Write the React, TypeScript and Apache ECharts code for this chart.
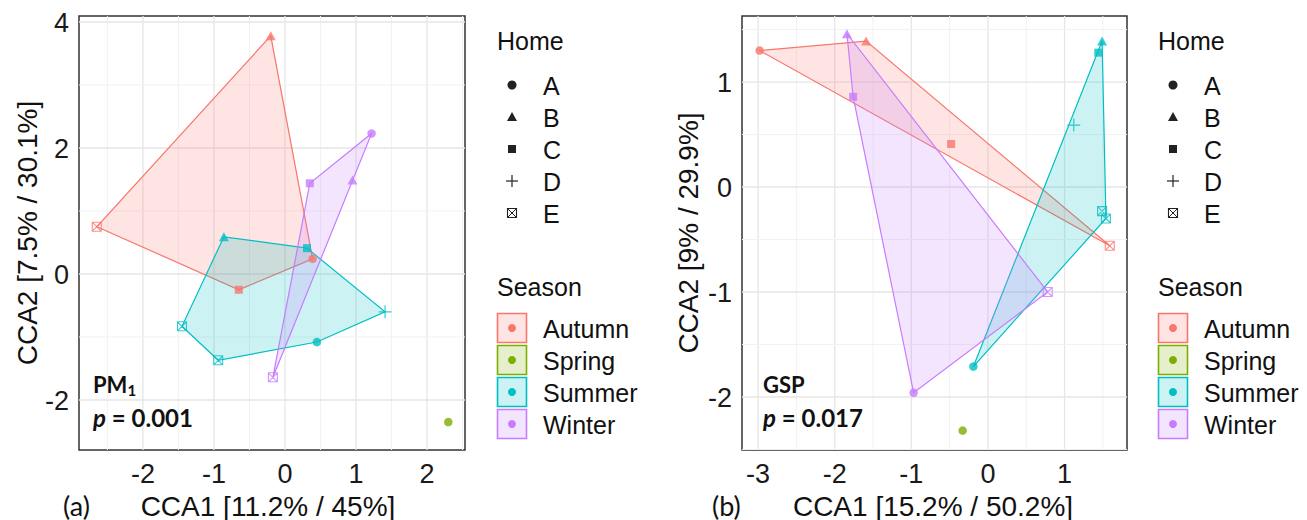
import React, { useEffect, useRef } from "react";
import * as echarts from "echarts";

// ---------- data ----------
const homes = ["A", "B", "C", "D", "E"];
const seasons = ["Autumn", "Spring", "Summer", "Winter"];
const seasonColors = ["#F8766D", "#7CAE00", "#00BFC4", "#C77CFF"];

// points: [home, CCA1, CCA2]
const pm1Autumn: [string, number, number][] = [["A", 0.39, 0.24], ["B", -0.2, 3.78], ["C", -0.65, -0.25], ["E", -2.65, 0.75]];
const pm1Spring: [string, number, number][] = [["A", 2.3, -2.35]];
const pm1Summer: [string, number, number][] = [["A", 0.45, -1.08], ["B", -0.86, 0.59], ["C", 0.31, 0.41], ["D", 1.41, -0.6], ["E", -0.94, -1.37], ["E", -1.45, -0.83]];
const pm1Winter: [string, number, number][] = [["A", 1.22, 2.23], ["B", 0.95, 1.49], ["C", 0.35, 1.44], ["E", -0.17, -1.64]];

const gspAutumn: [string, number, number][] = [["A", -2.98, 1.3], ["B", -1.59, 1.39], ["C", -0.48, 0.41], ["E", 1.59, -0.56]];
const gspSpring: [string, number, number][] = [["A", -0.33, -2.32]];
const gspSummer: [string, number, number][] = [["A", -0.19, -1.71], ["B", 1.49, 1.39], ["C", 1.44, 1.28], ["D", 1.12, 0.59], ["E", 1.49, -0.23], ["E", 1.54, -0.3]];
const gspWinter: [string, number, number][] = [["A", -0.97, -1.96], ["B", -1.84, 1.46], ["C", -1.76, 0.86], ["E", 0.78, -1.0]];

const pm1XTicks = [-2, -1, 0, 1, 2];
const pm1YTicks = [-2, 0, 2, 4];
const gspXTicks = [-3, -2, -1, 0, 1];
const gspYTicks = [-2, -1, 0, 1];

const pm1XLabel = "CCA1 [11.2% / 45%]";
const pm1YLabel = "CCA2 [7.5% / 30.1%]";
const gspXLabel = "CCA1 [15.2% / 50.2%]";
const gspYLabel = "CCA2 [9% / 29.9%]";

// ---------- helpers ----------
const FONT = "'Liberation Sans', Arial, sans-serif";
const CAL = "Lato, 'Open Sans', sans-serif";

function rgba(hex: string, a: number) {
  const n = parseInt(hex.slice(1), 16);
  return `rgba(${(n >> 16) & 255},${(n >> 8) & 255},${n & 255},${a})`;
}

function hull(pts: number[][]) {
  const p = pts.slice().sort((a, b) => a[0] - b[0] || a[1] - b[1]);
  if (p.length < 3) return p;
  const cross = (o: number[], a: number[], b: number[]) => (a[0] - o[0]) * (b[1] - o[1]) - (a[1] - o[1]) * (b[0] - o[0]);
  const lower: number[][] = [];
  for (const q of p) {
    while (lower.length >= 2 && cross(lower[lower.length - 2], lower[lower.length - 1], q) <= 0) lower.pop();
    lower.push(q);
  }
  const upper: number[][] = [];
  for (let i = p.length - 1; i >= 0; i--) {
    const q = p[i];
    while (upper.length >= 2 && cross(upper[upper.length - 2], upper[upper.length - 1], q) <= 0) upper.pop();
    upper.push(q);
  }
  upper.pop();
  lower.pop();
  return lower.concat(upper);
}

function minors(ticks: number[], lo: number, hi: number) {
  const step = ticks[1] - ticks[0];
  const out: number[] = [];
  for (let i = -1; i < ticks.length; i++) {
    const v = ticks[0] + step * i + step / 2;
    if (v > lo && v < hi) out.push(v);
  }
  return out;
}

const PLUS = "path://M5 0L5 10M0 5L10 5";
const BOXX = "path://M0 0L10 0L10 10L0 10ZM0 0L10 10M10 0L0 10";
function symbolFor(h: string, color: string) {
  switch (h) {
    case "A": return { symbol: "circle", symbolSize: 8.5, itemStyle: { color } };
    case "B": return { symbol: "triangle", symbolSize: [10, 9], itemStyle: { color } };
    case "C": return { symbol: "rect", symbolSize: 8, itemStyle: { color } };
    case "D": return { symbol: PLUS, symbolSize: 13, itemStyle: { color: "rgba(0,0,0,0)", borderColor: color, borderWidth: 1.2 } };
    default: return { symbol: BOXX, symbolSize: 9, itemStyle: { color: "rgba(0,0,0,0)", borderColor: color, borderWidth: 1.1 } };
  }
}

type Panel = {
  x: number[]; y: number[];
  xTicks: number[]; yTicks: number[];
  groups: [string, number, number][][];
};

const panels: Panel[] = [
  { x: [-2.9, 2.535], y: [-2.794, 4.095], xTicks: pm1XTicks, yTicks: pm1YTicks, groups: [pm1Autumn, pm1Spring, pm1Summer, pm1Winter] },
  { x: [-3.21, 1.815], y: [-2.505, 1.629], xTicks: gspXTicks, yTicks: gspYTicks, groups: [gspAutumn, gspSpring, gspSummer, gspWinter] },
];

const TICK_SIZE = 27;

function buildOption() {
  const grid = [
    { left: 79, top: 16, width: 386, height: 434 },
    { left: 742, top: 16, width: 385, height: 434 },
  ].map((g) => ({ ...g, show: true, borderColor: "#333", borderWidth: 1.5, backgroundColor: "#fff" }));

  const xAxis: any[] = [];
  const yAxis: any[] = [];
  const series: any[] = [];

  panels.forEach((pn, gi) => {
    xAxis.push({
      gridIndex: gi, type: "value", min: pn.x[0], max: pn.x[1],
      axisLine: { show: false }, axisTick: { show: false }, splitLine: { show: false }, axisLabel: { show: false },
    });
    yAxis.push({
      gridIndex: gi, type: "value", min: pn.y[0], max: pn.y[1],
      axisLine: { show: false }, axisTick: { show: false }, splitLine: { show: false }, axisLabel: { show: false },
    });
    const ymid = (pn.y[0] + pn.y[1]) / 2;
    const xmid = (pn.x[0] + pn.x[1]) / 2;
    const vlines = [
      ...minors(pn.xTicks, pn.x[0], pn.x[1]).map((v) => [v, ymid, 0]),
      ...pn.xTicks.map((v) => [v, ymid, 1]),
    ];
    const hlines = [
      ...minors(pn.yTicks, pn.y[0], pn.y[1]).map((v) => [xmid, v, 0]),
      ...pn.yTicks.map((v) => [xmid, v, 1]),
    ];
    // grid lines
    series.push({
      type: "custom", xAxisIndex: gi, yAxisIndex: gi, z: 1, silent: true,
      data: vlines,
      renderItem: (_p: any, api: any) => {
        const v = api.value(0);
        const a = api.coord([v, pn.y[0]]);
        const b = api.coord([v, pn.y[1]]);
        const major = api.value(2) === 1;
        return { type: "line", shape: { x1: a[0], y1: a[1], x2: b[0], y2: b[1] }, style: { stroke: major ? "#e6e6e6" : "#f2f2f2", lineWidth: major ? 1.3 : 1 } };
      },
    });
    series.push({
      type: "custom", xAxisIndex: gi, yAxisIndex: gi, z: 1, silent: true,
      data: hlines,
      renderItem: (_p: any, api: any) => {
        const v = api.value(1);
        const a = api.coord([pn.x[0], v]);
        const b = api.coord([pn.x[1], v]);
        const major = api.value(2) === 1;
        return { type: "line", shape: { x1: a[0], y1: a[1], x2: b[0], y2: b[1] }, style: { stroke: major ? "#e6e6e6" : "#f2f2f2", lineWidth: major ? 1.3 : 1 } };
      },
    });
    // tick labels (placed through the axis scales)
    series.push({
      type: "custom", xAxisIndex: gi, yAxisIndex: gi, z: 5, silent: true, clip: false,
      data: pn.xTicks.map((v) => [v, pn.y[0]]),
      renderItem: (_p: any, api: any) => {
        const v = api.value(0);
        const c = api.coord([v, pn.y[0]]);
        return { type: "text", x: c[0], y: c[1] + 24, style: { text: String(v), fontSize: TICK_SIZE, fontFamily: FONT, fill: "#1a1a1a", align: "center", verticalAlign: "middle" } };
      },
    });
    series.push({
      type: "custom", xAxisIndex: gi, yAxisIndex: gi, z: 5, silent: true, clip: false,
      data: pn.yTicks.map((v) => [pn.x[0], v]),
      renderItem: (_p: any, api: any) => {
        const v = api.value(1);
        const c = api.coord([pn.x[0], v]);
        return { type: "text", x: c[0] - 10, y: c[1] + 1, style: { text: String(v), fontSize: TICK_SIZE, fontFamily: FONT, fill: "#1a1a1a", align: "right", verticalAlign: "middle" } };
      },
    });

    pn.groups.forEach((pts, si) => {
      const color = seasonColors[si];
      const h = hull(pts.map((p) => [p[1], p[2]]));
      if (h.length >= 3) {
        series.push({
          type: "custom", name: seasons[si], xAxisIndex: gi, yAxisIndex: gi, z: 2, silent: true,
          data: h,
          renderItem: (params: any, api: any) => {
            if (params.dataIndex !== 0) return null;
            const points = h.map((q) => api.coord(q));
            return { type: "polygon", shape: { points }, style: { fill: rgba(color, 0.2), stroke: color, lineWidth: 1.2 } };
          },
        });
      }
    });
    pn.groups.forEach((pts, si) => {
      const color = seasonColors[si];
      series.push({
        type: "scatter", name: seasons[si], xAxisIndex: gi, yAxisIndex: gi, z: 3,
        data: pts.map(([hm, x, y]) => ({ value: [x, y], name: hm, ...symbolFor(hm, color) })),
      });
    });
  });

  // ---------- graphics (titles, annotations, legends) ----------
  const graphic: any[] = [];
  const txt = (text: string, x: number, y: number, size: number, family: string = FONT, extra: any = {}) => ({
    type: "text", x, y, silent: true,
    style: { text, fill: "#111", fontSize: size, fontFamily: family, verticalAlign: "middle", align: "left", ...extra },
  });

  // axis titles
  graphic.push(txt(pm1XLabel, 268, 506, 28, FONT, { align: "center" }));
  graphic.push(txt(gspXLabel, 933, 506, 28, FONT, { align: "center" }));
  graphic.push({ ...txt(pm1YLabel, 0, 0, 28, FONT, { align: "center" }), x: 27, y: 233, rotation: Math.PI / 2 });
  graphic.push({ ...txt(gspYLabel, 0, 0, 28, FONT, { align: "center" }), x: 688, y: 233, rotation: Math.PI / 2 });
  graphic.push(txt("(a)", 63, 505, 27, CAL));
  graphic.push(txt("(b)", 712, 505, 27, CAL));

  // panel annotations
  const ann = (main: string, sub: string, pval: string, x: number) => {
    graphic.push({
      type: "text", x, y: 384, silent: true, z: 10,
      style: {
        text: sub ? `{m|${main}}{s|${sub}}` : `{m|${main}}`,
        verticalAlign: "middle",
        rich: {
          m: { fontFamily: CAL, fontWeight: "bold", fontSize: 22, fill: "#111" },
          s: { fontFamily: CAL, fontWeight: "bold", fontSize: 15, fill: "#111", padding: [12, 0, 0, 0] },
        },
      },
    });
    graphic.push({
      type: "text", x, y: 417, silent: true, z: 10,
      style: {
        text: `{i|p}{n| = ${pval}}`,
        verticalAlign: "middle",
        rich: {
          i: { fontFamily: CAL, fontWeight: "bold", fontStyle: "italic", fontSize: 24, fill: "#111" },
          n: { fontFamily: CAL, fontWeight: "bold", fontSize: 24, fill: "#111" },
        },
      },
    });
  };
  ann("PM", "1", "0.001", 93);
  ann("GSP", "", "0.017", 763);

  // legends
  const dark = "#222";
  [0, 661].forEach((ox) => {
    graphic.push(txt("Home", 497 + ox, 41, 25));
    homes.forEach((hm, i) => {
      const cx = 512 + ox;
      const cy = 85 + i * 32;
      let sym: any;
      if (hm === "A") sym = { type: "circle", shape: { cx, cy, r: 4.5 }, style: { fill: dark } };
      else if (hm === "B") sym = { type: "polygon", shape: { points: [[cx, cy - 5], [cx + 5, cy + 4], [cx - 5, cy + 4]] }, style: { fill: dark } };
      else if (hm === "C") sym = { type: "rect", shape: { x: cx - 4, y: cy - 4, width: 8, height: 8 }, style: { fill: dark } };
      else if (hm === "D")
        sym = { type: "group", children: [
          { type: "line", shape: { x1: cx - 6, y1: cy, x2: cx + 6, y2: cy }, style: { stroke: dark, lineWidth: 1.2 } },
          { type: "line", shape: { x1: cx, y1: cy - 6, x2: cx, y2: cy + 6 }, style: { stroke: dark, lineWidth: 1.2 } },
        ] };
      else
        sym = { type: "group", children: [
          { type: "rect", shape: { x: cx - 4.5, y: cy - 4.5, width: 9, height: 9 }, style: { fill: "none", stroke: dark, lineWidth: 1.1 } },
          { type: "line", shape: { x1: cx - 4.5, y1: cy - 4.5, x2: cx + 4.5, y2: cy + 4.5 }, style: { stroke: dark, lineWidth: 1 } },
          { type: "line", shape: { x1: cx + 4.5, y1: cy - 4.5, x2: cx - 4.5, y2: cy + 4.5 }, style: { stroke: dark, lineWidth: 1 } },
        ] };
      graphic.push({ ...sym, silent: true });
      graphic.push(txt(hm, 543 + ox, cy + 1, 25));
    });
    graphic.push(txt("Season", 497 + ox, 287, 25));
    seasons.forEach((s, i) => {
      const y0 = 313 + i * 32;
      graphic.push({ type: "rect", silent: true, shape: { x: 497.5 + ox, y: y0 + 0.5, width: 29, height: 29 }, style: { fill: rgba(seasonColors[i], 0.2), stroke: seasonColors[i], lineWidth: 1.6 } });
      graphic.push({ type: "circle", silent: true, shape: { cx: 512 + ox, cy: y0 + 15, r: 4 }, style: { fill: seasonColors[i] } });
      graphic.push(txt(s, 543 + ox, y0 + 16, 25));
    });
  });

  return {
    animation: false,
    backgroundColor: "#fff",
    textStyle: { fontFamily: FONT },
    grid, xAxis, yAxis, series, graphic,
  };
}

export default function App() {
  const ref = useRef<HTMLDivElement>(null);
  useEffect(() => {
    if (!ref.current) return;
    const chart = echarts.init(ref.current, undefined, { renderer: "svg" });
    chart.setOption(buildOption() as any);
    return () => chart.dispose();
  }, []);
  return <div ref={ref} style={{ position: "fixed", left: 0, top: 0, width: 1307, height: 520, background: "#fff" }} />;
}
